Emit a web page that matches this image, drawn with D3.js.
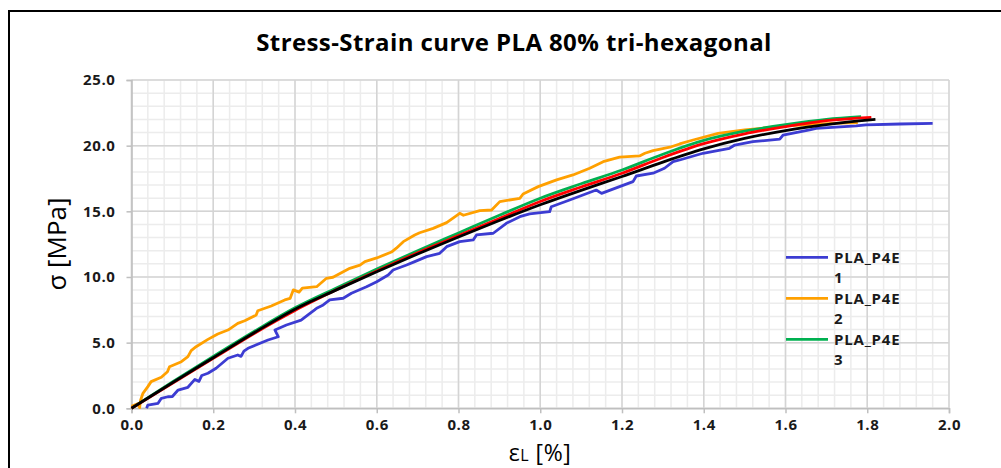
<!DOCTYPE html>
<meta charset="utf-8">
<script src="https://d3js.org/d3.v7.min.js"></script>
<style>
  body { margin: 0; background: #fff; }
  text { font-family: "Open Sans", "Noto Sans", sans-serif; }
</style>
<svg id="chart" width="1001" height="468"></svg>
<script>
// series: [strain %, stress MPa]
var p4e1 = [[0.037,0],[0.04,0.25],[0.065,0.38],[0.073,0.76],[0.089,0.88],[0.1,0.9],[0.114,1.39],[0.138,1.6],[0.155,2.2],[0.165,2.05],[0.172,2.5],[0.187,2.67],[0.207,3.05],[0.236,3.81],[0.26,4.06],[0.268,3.95],[0.275,4.35],[0.285,4.57],[0.334,5.2],[0.359,5.45],[0.351,5.96],[0.379,6.34],[0.415,6.72],[0.431,7.1],[0.448,7.49],[0.453,7.62],[0.469,7.87],[0.485,8.25],[0.518,8.38],[0.538,8.76],[0.575,9.26],[0.6,9.64],[0.628,10.15],[0.64,10.53],[0.673,10.91],[0.693,11.17],[0.722,11.55],[0.754,11.8],[0.771,12.31],[0.803,12.69],[0.836,12.82],[0.844,13.2],[0.885,13.33],[0.917,14.09],[0.95,14.59],[0.974,14.8],[1.023,14.97],[1.027,15.35],[1.072,15.86],[1.137,16.62],[1.15,16.37],[1.194,16.88],[1.227,17.26],[1.235,17.69],[1.276,17.9],[1.304,18.28],[1.325,18.78],[1.341,18.91],[1.398,19.42],[1.463,19.8],[1.476,20.05],[1.52,20.3],[1.586,20.49],[1.594,20.81],[1.659,21.2],[1.675,21.32],[1.773,21.5],[1.797,21.58],[1.88,21.65],[1.96,21.7]];

var p4e2 = [[0,0.15],[0.015,0.35],[0.02,0.05],[0.022,0.6],[0.028,1.14],[0.04,1.65],[0.048,2.03],[0.073,2.36],[0.088,2.79],[0.093,3.17],[0.122,3.55],[0.138,3.93],[0.146,4.39],[0.158,4.69],[0.187,5.25],[0.211,5.66],[0.236,5.96],[0.26,6.47],[0.277,6.67],[0.305,7.1],[0.309,7.43],[0.342,7.79],[0.375,8.25],[0.388,8.37],[0.396,9.02],[0.41,8.85],[0.418,9.15],[0.453,9.26],[0.477,9.9],[0.493,9.98],[0.534,10.66],[0.559,10.9],[0.571,11.17],[0.6,11.45],[0.636,11.9],[0.648,12.19],[0.665,12.69],[0.693,13.2],[0.705,13.37],[0.738,13.7],[0.771,14.14],[0.803,14.85],[0.812,14.7],[0.852,15.05],[0.881,15.1],[0.901,15.74],[0.95,15.99],[0.958,16.32],[0.995,16.88],[1.04,17.39],[1.08,17.77],[1.121,18.28],[1.154,18.78],[1.194,19.12],[1.243,19.22],[1.256,19.42],[1.276,19.62],[1.317,19.88],[1.341,20.13],[1.374,20.43],[1.435,20.94],[1.5,21.2],[1.6,21.5],[1.715,21.7],[1.777,21.75]];

var p4e3 = [[0,0],[0.1,2.0],[0.2,3.95],[0.3,5.85],[0.4,7.65],[0.5,9.15],[0.6,10.6],[0.7,12.0],[0.8,13.35],[0.9,14.7],[1.0,16.0],[1.1,17.1],[1.2,18.15],[1.3,19.35],[1.4,20.4],[1.5,21.1],[1.6,21.6],[1.7,22.0],[1.785,22.2]];

var redCurve = [[0,0],[0.1,1.9],[0.2,3.8],[0.3,5.7],[0.4,7.45],[0.5,9.0],[0.6,10.45],[0.7,11.85],[0.8,13.15],[0.9,14.45],[1.0,15.75],[1.1,16.85],[1.2,17.9],[1.3,19.1],[1.4,20.15],[1.5,20.9],[1.6,21.45],[1.7,21.9],[1.81,22.15]];

var blackCurve = [[0,0],[0.1,1.95],[0.2,3.85],[0.3,5.75],[0.4,7.55],[0.5,9.0],[0.6,10.4],[0.7,11.75],[0.8,13.05],[0.9,14.3],[1.0,15.5],[1.1,16.6],[1.2,17.65],[1.3,18.75],[1.4,19.75],[1.5,20.55],[1.6,21.15],[1.7,21.6],[1.8,21.95],[1.82,22.0]];

var xTicks = [0, 0.2, 0.4, 0.6, 0.8, 1.0, 1.2, 1.4, 1.6, 1.8, 2.0];
var yTicks = [0, 5, 10, 15, 20, 25];
var legendNames = ["1", "2", "3"];

var svg = d3.select("#chart");

// outer frame
svg.append("rect")
    .attr("x", 9).attr("y", 11)
    .attr("width", 1000).attr("height", 470)
    .attr("fill", "none").attr("stroke", "#000").attr("stroke-width", 2);

var x = d3.scaleLinear().domain([0, 2]).range([131.5, 949]);
var y = d3.scaleLinear().domain([0, 25]).range([408.3, 80]);

// minor grid
var g = svg.append("g");
g.selectAll(".vmin").data(d3.range(0, 51).map(function(i){ return i * 0.04; }))
  .enter().append("line")
    .attr("x1", function(d){ return x(d); }).attr("x2", function(d){ return x(d); })
    .attr("y1", y(0)).attr("y2", y(25))
    .attr("stroke", "#ececec").attr("stroke-width", 1.5);
g.selectAll(".hmin").data(d3.range(0, 26))
  .enter().append("line")
    .attr("x1", x(0)).attr("x2", x(2))
    .attr("y1", function(d){ return y(d); }).attr("y2", function(d){ return y(d); })
    .attr("stroke", "#ececec").attr("stroke-width", 1.5);

// major grid
g.selectAll(".vmaj").data(xTicks)
  .enter().append("line")
    .attr("x1", function(d){ return x(d); }).attr("x2", function(d){ return x(d); })
    .attr("y1", y(0)).attr("y2", y(25))
    .attr("stroke", "#d4d4d4").attr("stroke-width", 1.5);
g.selectAll(".hmaj").data(yTicks)
  .enter().append("line")
    .attr("x1", x(0)).attr("x2", x(2))
    .attr("y1", function(d){ return y(d); }).attr("y2", function(d){ return y(d); })
    .attr("stroke", "#d4d4d4").attr("stroke-width", 1.5);

// axes
var xAxis = svg.append("g")
    .attr("transform", "translate(0," + y(0) + ")")
    .call(d3.axisBottom(x).tickValues(xTicks).tickFormat(d3.format(".1f")).tickSize(5).tickPadding(6));
var yAxis = svg.append("g")
    .attr("transform", "translate(" + x(0) + ",0)")
    .call(d3.axisLeft(y).tickValues(yTicks).tickFormat(d3.format(".1f")).tickSize(5).tickPadding(11));
[xAxis, yAxis].forEach(function(a){
  a.select(".domain").attr("stroke", "#bfbfbf").attr("stroke-width", 1.5);
  a.selectAll(".tick line").attr("stroke", "#bfbfbf").attr("stroke-width", 1.5);
  a.selectAll(".tick text")
    .attr("fill", "#1a1a1a")
    .style("font-family", "'Open Sans', sans-serif")
    .style("font-size", "15px").style("font-weight", "bold")
    .style("letter-spacing", "0.6px");
});

// series
var line = d3.line().x(function(d){ return x(d[0]); }).y(function(d){ return y(d[1]); });
var smooth = d3.line().x(function(d){ return x(d[0]); }).y(function(d){ return y(d[1]); }).curve(d3.curveMonotoneX);

var series = [
  {data: p4e1, color: "#3c3cd2", gen: line},
  {data: p4e2, color: "#ffa000", gen: line},
  {data: p4e3, color: "#00b050", gen: smooth},
  {data: redCurve, color: "#ff0000", gen: smooth},
  {data: blackCurve, color: "#000000", gen: smooth}
];
svg.append("g").selectAll("path").data(series).enter().append("path")
    .attr("d", function(d){ return d.gen(d.data); })
    .attr("fill", "none")
    .attr("stroke", function(d){ return d.color; })
    .attr("stroke-width", 2.8)
    .attr("stroke-linejoin", "round");

// legend
var legend = svg.append("g");
legendNames.forEach(function(n, i){
  var ly = 257.3 + i * 41;
  legend.append("line")
    .attr("x1", 786).attr("x2", 828).attr("y1", ly).attr("y2", ly)
    .attr("stroke", series[i].color).attr("stroke-width", 2.8);
  var t = legend.append("text")
    .attr("x", 834).attr("y", ly + 5.6)
    .style("font-size", "15px").style("font-weight", "bold")
    .style("letter-spacing", "0.8px").attr("fill", "#1a1a1a");
  t.append("tspan").attr("x", 834).text("PLA_P4E");
  t.append("tspan").attr("x", 834).attr("dy", 20).text(n);
});

// title
svg.append("text")
    .attr("x", 514).attr("y", 51)
    .attr("text-anchor", "middle")
    .style("font-size", "24px").style("font-weight", "bold")
    .style("letter-spacing", "0.4px")
    .attr("fill", "#000")
    .text("Stress-Strain curve PLA 80% tri-hexagonal");

// y axis title
svg.append("text")
    .attr("transform", "translate(66,244) rotate(-90)")
    .attr("text-anchor", "middle")
    .style("font-size", "26px").attr("fill", "#000")
    .text("σ [MPa]");

// x axis title
var xt = svg.append("text")
    .attr("x", 540).attr("y", 461)
    .attr("text-anchor", "middle")
    .style("font-size", "23px").style("letter-spacing", "0.5px").attr("fill", "#000");
xt.append("tspan").text("ε");
xt.append("tspan").style("font-size", "16px").text("L");
xt.append("tspan").text(" [%]");
</script>
